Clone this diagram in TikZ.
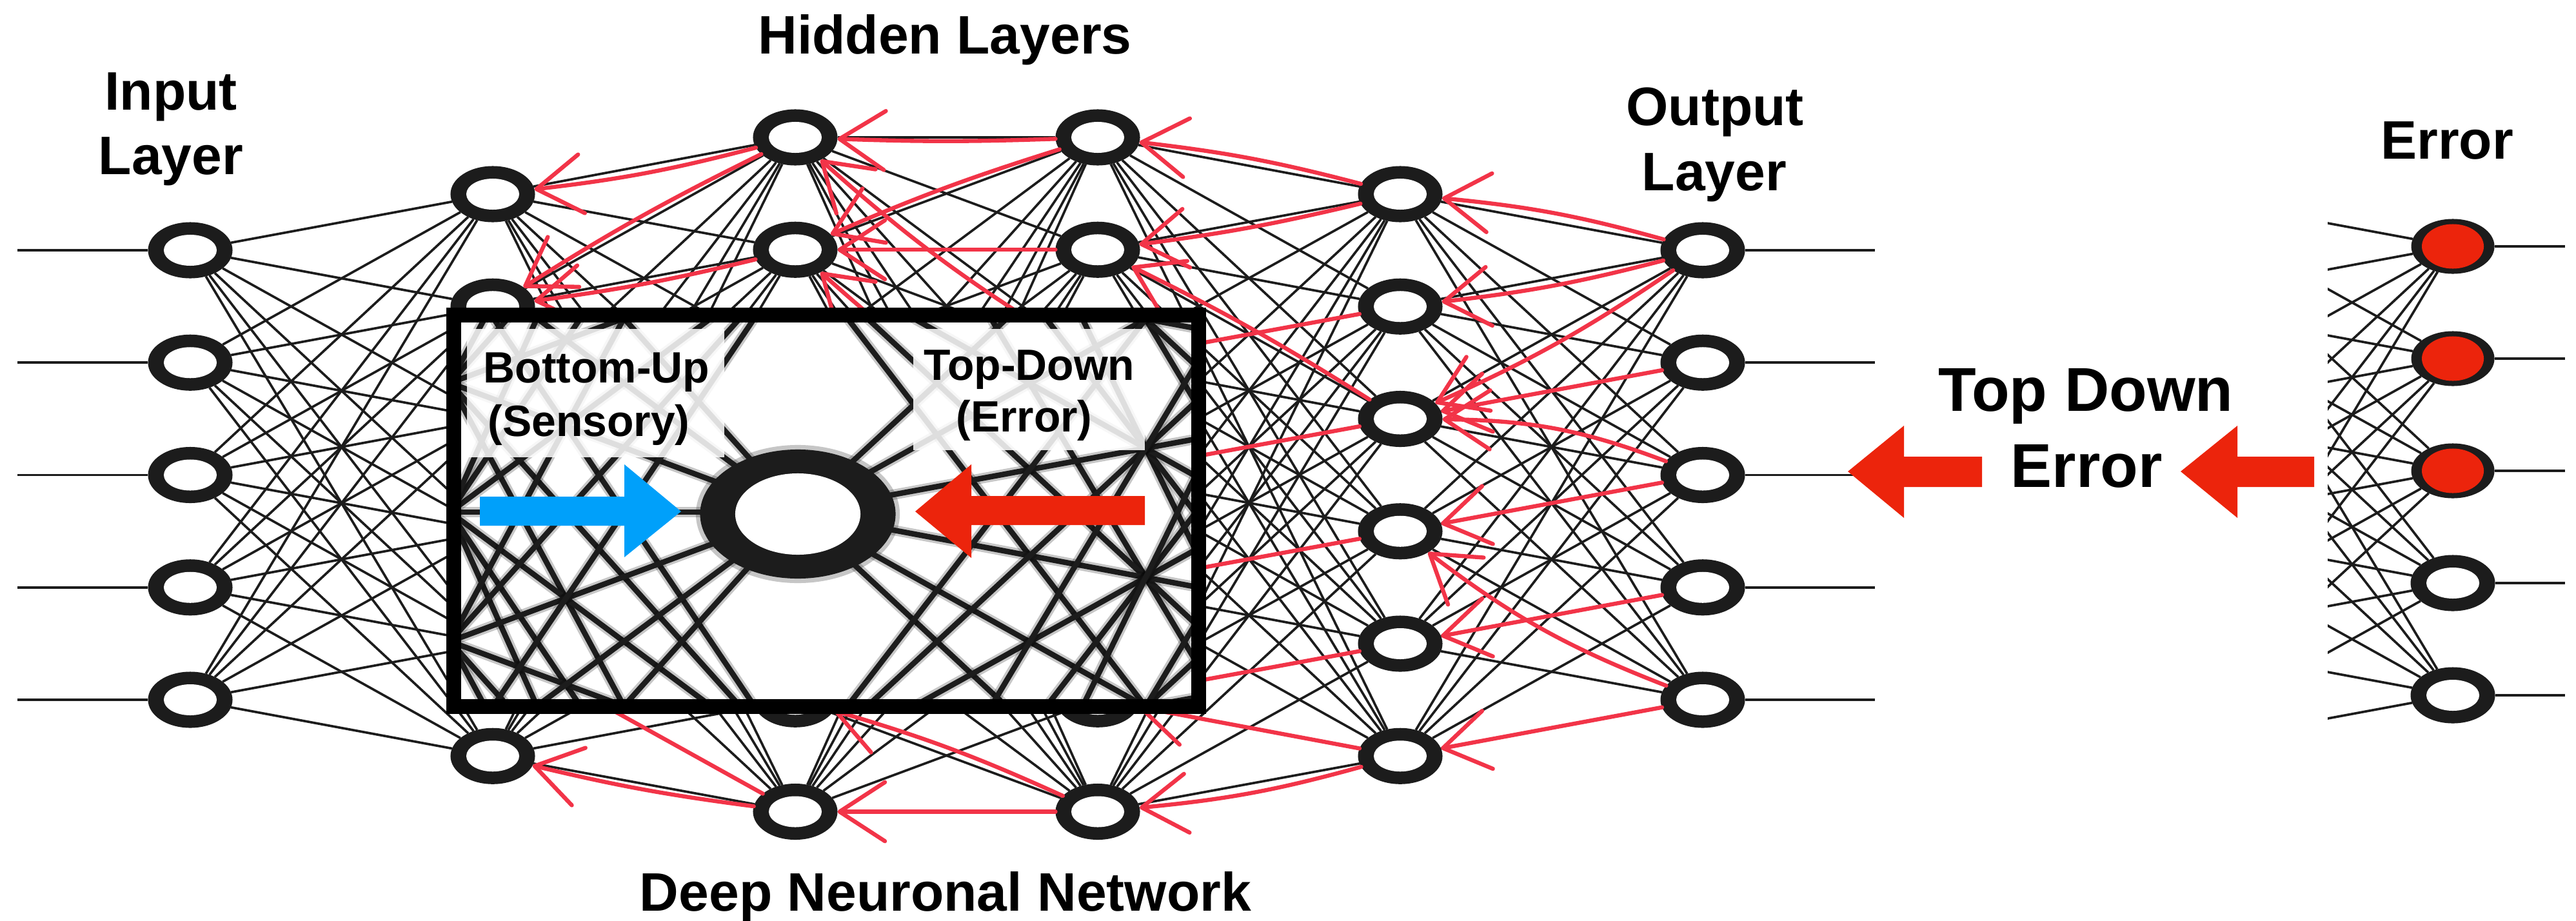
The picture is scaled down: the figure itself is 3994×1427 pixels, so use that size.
\documentclass[tikz,border=0pt]{standalone}
\usepackage{fontspec}
\setmainfont{Liberation Sans}
\usetikzlibrary{shapes.geometric, arrows.meta}

\definecolor{inkline}{RGB}{28,28,28}
\definecolor{pen}{RGB}{242,52,72}
\definecolor{alarm}{RGB}{236,36,12}
\definecolor{sky}{RGB}{0,160,250}

\tikzset{
  neuron/.style={ellipse, fill=inkline, minimum width=1.31cm, minimum height=0.87cm,
    inner sep=0pt, outer sep=0pt,
    path picture={\fill[white] (path picture bounding box.center) ellipse [x radius=0.41cm, y radius=0.24cm];}},
  errneuron/.style={ellipse, fill=inkline, minimum width=1.29cm, minimum height=0.85cm,
    inner sep=0pt, outer sep=0pt,
    path picture={\fill[alarm] (path picture bounding box.center) ellipse [x radius=0.48cm, y radius=0.345cm];}},
  conn/.style={draw=inkline, line width=1.05pt},
  haze/.style={draw=black, opacity=0.22, line width=0.16cm},
  zoomline/.style={draw=inkline, line width=0.085cm},
  back/.style={draw=pen, line width=1.8pt, line cap=round, line join=round,
    -{Straight Barb[length=20pt, width=26pt, round]}},
  title/.style={font=\fontsize{23.9pt}{28pt}\selectfont\bfseries, inner sep=0pt, anchor=base},
  bigtitle/.style={font=\fontsize{27.3pt}{32pt}\selectfont\bfseries, inner sep=0pt, anchor=base},
  tag/.style={font=\fontsize{19.3pt}{23pt}\selectfont\bfseries, inner sep=0pt, anchor=base},
}

\begin{document}
\begin{tikzpicture}[x=0.01cm, y=-0.01cm]
\useasboundingbox (0,0) rectangle (3994,1427);
\fill[white] (0,0) rectangle (3994,1427);

% ---------- neurons of the deep network ----------
\foreach \lay/\lx/\cnt/\ly in {in/295/5/388, h1/764/6/301, h2/1233/7/213,
                               h3/1702/7/213, h4/2171/6/301, out/2640/5/388}{
  \foreach \k in {1,...,\cnt}{
    \node[neuron] (\lay-\k) at (\lx, {\ly+(\k-1)*174.25}) {};
  }
}

% ---------- full connections between consecutive layers ----------
\foreach \a/\na/\b/\nb in {in/5/h1/6, h1/6/h2/7, h2/7/h3/7, h3/7/h4/6, h4/6/out/5}{
  \foreach \i in {1,...,\na}{
    \foreach \j in {1,...,\nb}{
      \draw[conn] (\a-\i) -- (\b-\j);
    }
  }
}

% input and output stubs
\foreach \k in {1,...,5}{
  \coordinate (inl-\k) at (27, {388+(\k-1)*174.25});
  \coordinate (outr-\k) at (2907, {388+(\k-1)*174.25});
  \draw[conn] (inl-\k) -- (in-\k);
  \draw[conn] (out-\k) -- (outr-\k);
}

% ---------- error layer ----------
\foreach \k in {1,2,3}{
  \node[errneuron] (e-\k) at (3803, {382+(\k-1)*174}) {};
}
\foreach \k in {4,5}{
  \node[neuron] (e-\k) at (3803, {382+(\k-1)*174}) {};
}
\foreach \k in {1,...,6}{
  \coordinate (v-\k) at (3334, {295+(\k-1)*174});
}
\begin{scope}
  \clip (3609,0) rectangle (3994,1427);
  \foreach \i in {1,...,6}{
    \foreach \j in {1,...,5}{
      \draw[conn] (v-\i) -- (e-\j);
    }
  }
\end{scope}
\foreach \k in {1,...,5}{
  \coordinate (er-\k) at (3977, {382+(\k-1)*174});
  \draw[conn] (e-\k) -- (er-\k);
}

% ---------- hand-drawn top-down error strokes ----------
\draw[back] (h2-1) to[bend left=4] (h1-1);
\draw[back] (h2-1) to[bend right=3] (h1-2);
\draw[back] (h2-2) to[bend left=3] (h1-2);
\draw[back] (h2-7) to[bend left=3] (h1-6);
\draw[back] (h2-7) -- (h1-5);
\draw[back] (h3-1) to[bend left=2] (h2-1);
\draw[back] (h3-1) to[bend right=3] (h2-2);
\draw[back] (h3-2) -- (h2-2);
\draw[back] (h3-3) to[bend left=5] (h2-1);
\draw[back] (h3-4) to[bend left=5] (h2-2);
\draw[back] (h3-7) -- (h2-7);
\draw[back] (h3-7) to[bend right=4] (h2-6);
\draw[back] (h4-1) to[bend right=4] (h3-1);
\draw[back] (h4-1) to[bend left=3] (h3-2);
\draw[back] (h4-3) to[bend right=3] (h3-2);
\draw[back] (h4-2) -- (h3-3);
\draw[back] (h4-3) -- (h3-4);
\draw[back] (h4-4) -- (h3-5);
\draw[back] (h4-5) -- (h3-6);
\draw[back] (h4-6) -- (h3-6);
\draw[back] (h4-6) to[bend left=5] (h3-7);
\draw[back] (out-1) to[bend right=5] (h4-1);
\draw[back] (out-1) to[bend left=4] (h4-2);
\draw[back] (out-1) to[bend left=5] (h4-3);
\draw[back] (out-2) -- (h4-3);
\draw[back] (out-3) -- (h4-4);
\draw[back] (out-4) -- (h4-5);
\draw[back] (out-5) -- (h4-6);
\draw[back] (out-5) to[bend left=8] (h4-4);
\draw[back] (out-3) to[bend right=10] (h4-3);

% ---------- magnified view of one hidden neuron ----------
\fill[white] (703.5,488.5) rectangle (1858.5,1095.5);
\begin{scope}
  \clip (715,500) rectangle (1847,1084);
  \begin{scope}[shift={(-2677.6,-898.1)}, scale=2.3]
    \foreach \lay/\lx/\cnt/\ly in {h2/1233/7/213, h3/1702/7/213, h4/2171/6/301}{
      \foreach \k in {1,...,\cnt}{
        \coordinate (z\lay-\k) at (\lx, {\ly+(\k-1)*174.25});
      }
    }
  \end{scope}
  \foreach \a/\na/\b/\nb in {h2/7/h3/7, h3/7/h4/6}{
    \foreach \i in {1,...,\na}{
      \foreach \j in {1,...,\nb}{
        \draw[haze] (z\a-\i) -- (z\b-\j);
        \draw[zoomline] (z\a-\i) -- (z\b-\j);
      }
    }
  }
  \fill[inkline, opacity=0.25] (1237,797) ellipse [x radius=1.58cm, y radius=1.07cm];
  \node[ellipse, fill=inkline, minimum width=3.03cm, minimum height=2.0cm, inner sep=0pt,
    path picture={\fill[white] (path picture bounding box.center) ellipse [x radius=0.97cm, y radius=0.63cm];}]
    (focus) at (1237,797) {};
\end{scope}

% label panels inside the magnified view
\fill[white, opacity=0.86] (724,510) rectangle (1123,709);
\fill[white, opacity=0.86] (1416,510) rectangle (1775,698);
\node[tag] (bu-a) at (925,593) {Bottom-Up};
\node[tag] (bu-b) at (913,676) {(Sensory)};
\node[tag] (td-a) at (1596,589) {Top-Down};
\node[tag] (td-b) at (1588,669) {(Error)};

% sensory and error arrows
\fill[sky] (744,770) -- (968,770) -- (968,720) -- (1056,793) -- (968,864) -- (968,815) -- (744,815) -- cycle;
\fill[alarm] (1775,769) -- (1506,769) -- (1506,720) -- (1419,793) -- (1506,865) -- (1506,814) -- (1775,814) -- cycle;

\draw[line width=0.23cm] (703.5,488.5) rectangle (1858.5,1095.5);

% ---------- top-down error arrows between output and error layer ----------
\fill[alarm] (3073,708) -- (2952,708) -- (2952,660) -- (2865,731) -- (2952,803) -- (2952,755) -- (3073,755) -- cycle;
\fill[alarm] (3588,708) -- (3469,708) -- (3469,660) -- (3381,731) -- (3469,803) -- (3469,755) -- (3588,755) -- cycle;

% ---------- titles ----------
\node[title] (t-in-a) at (265,170) {Input};
\node[title] (t-in-b) at (265,270) {Layer};
\node[title] (t-hid) at (1465,83) {Hidden Layers};
\node[title] (t-out-a) at (2659,194) {Output};
\node[title] (t-out-b) at (2658,295) {Layer};
\node[title] (t-err) at (3794,246) {Error};
\node[title] (t-dnn) at (1466,1412) {Deep Neuronal Network};
\node[bigtitle] (t-td-a) at (3234,637) {Top Down};
\node[bigtitle] (t-td-b) at (3235,755) {Error};
\end{tikzpicture}
\end{document}
